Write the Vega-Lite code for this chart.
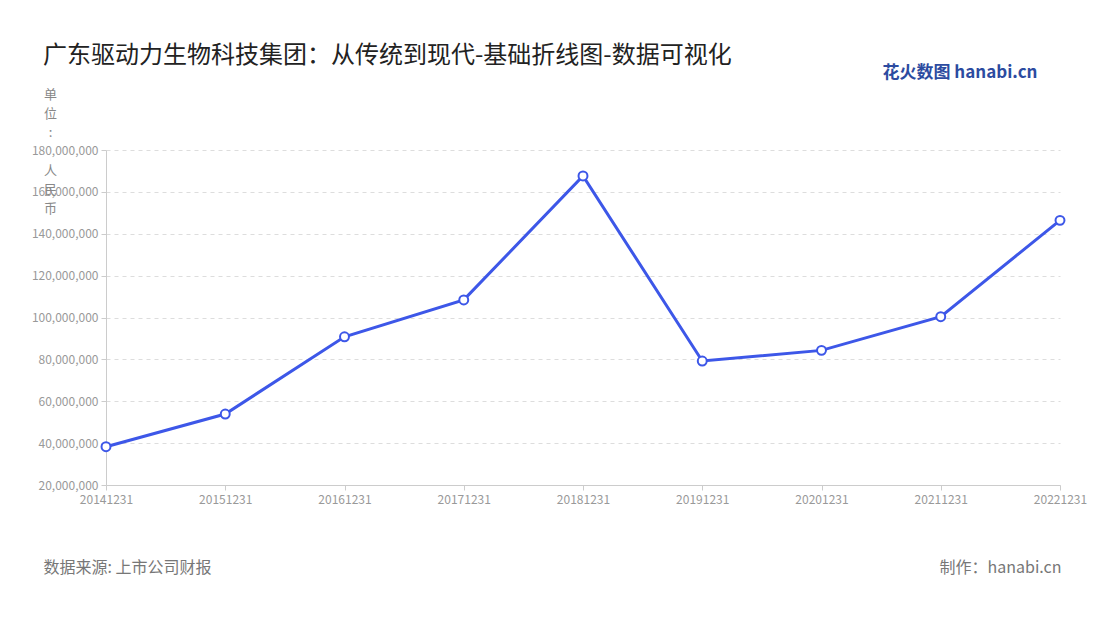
{
  "$schema": "https://vega.github.io/schema/vega-lite/v6.json",
  "autosize": {"type": "none"},
  "width": 954,
  "height": 335,
  "padding": {"left": 106, "top": 150, "right": 40, "bottom": 135},
  "background": "#ffffff",
  "config": {
    "font": "Noto Sans CJK SC",
    "view": {"stroke": null}
  },
  "title": {
    "text": "广东驱动力生物科技集团：从传统到现代-基础折线图-数据可视化",
    "anchor": "start",
    "frame": "group",
    "fontSize": 24,
    "fontWeight": "normal",
    "color": "#222222",
    "dx": -63,
    "dy": 25,
    "offset": 20
  },
  "data": {
    "values": [
      {"date": "20141231", "value": 38300000},
      {"date": "20151231", "value": 53900000},
      {"date": "20161231", "value": 90800000},
      {"date": "20171231", "value": 108400000},
      {"date": "20181231", "value": 167600000},
      {"date": "20191231", "value": 79200000},
      {"date": "20201231", "value": 84300000},
      {"date": "20211231", "value": 100400000},
      {"date": "20221231", "value": 146400000}
    ]
  },
  "layer": [
    {
      "mark": {
        "type": "line", "color": "#3d57e8", "strokeWidth": 3,
        "point": {"filled": true, "fill": "#ffffff", "stroke": "#3d57e8", "strokeWidth": 2, "size": 80, "opacity": 1}
      },
      "encoding": {
        "x": {
          "field": "date", "type": "ordinal", "sort": null,
          "scale": {"type": "point", "padding": 0},
          "axis": {
            "labelAngle": 0, "labelFontSize": 12, "labelColor": "#999999", "labelPadding": 4,
            "domainColor": "#cccccc", "tickColor": "#cccccc", "tickSize": 5,
            "grid": false,
            "title": "数据来源: 上市公司财报",
            "titleFontSize": 16, "titleFontWeight": "normal", "titleColor": "#777777",
            "titleAlign": "left", "titleBaseline": "middle", "titleAnchor": null,
            "titleX": -63, "titleY": 82
          }
        },
        "y": {
          "field": "value", "type": "quantitative",
          "scale": {"domain": [20000000, 180000000], "nice": false, "zero": false},
          "axis": {
            "values": [20000000, 40000000, 60000000, 80000000, 100000000, 120000000, 140000000, 160000000, 180000000],
            "labelExpr": "format(datum.value, ',')",
            "labelFontSize": 12, "labelColor": "#999999", "labelPadding": 3,
            "domainColor": "#cccccc", "tickColor": "#cccccc", "tickSize": 5,
            "grid": true, "gridColor": "#dddddd", "gridDash": [4, 4],
            "title": ["单", "位", ":", "\u2800", "人", "民", "币"],
            "titleAngle": 0, "titleAlign": "center", "titleBaseline": "top",
            "titleX": -56, "titleY": -62,
            "titleFontSize": 13, "titleFontWeight": "normal", "titleColor": "#888888",
            "titleLineHeight": 19
          }
        }
      }
    },
    {
      "mark": {"type": "line", "opacity": 0},
      "encoding": {
        "x": {
          "field": "date", "type": "ordinal", "sort": null,
          "axis": {
            "orient": "top", "labels": false, "ticks": false, "domain": false, "grid": false,
            "title": "花火数图 hanabi.cn",
            "titleFontSize": 17, "titleFontWeight": "bold", "titleColor": "#2c4ba0",
            "titleAlign": "right", "titleBaseline": "middle", "titleAnchor": null,
            "titleX": 931, "titleY": -78
          }
        },
        "y": {
          "field": "value", "type": "quantitative",
          "axis": {
            "orient": "right", "labels": false, "ticks": false, "domain": false, "grid": false,
            "title": "制作：hanabi.cn",
            "titleAngle": 0, "titleAlign": "right", "titleBaseline": "middle",
            "titleX": 1, "titleY": 417,
            "titleFontSize": 16, "titleFontWeight": "normal", "titleColor": "#777777"
          }
        }
      }
    }
  ],
  "resolve": {"axis": {"x": "independent", "y": "independent"}}
}
